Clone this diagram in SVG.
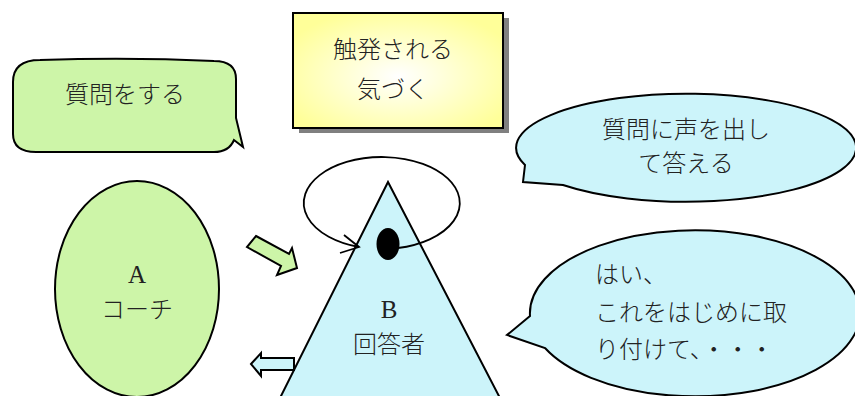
<svg xmlns="http://www.w3.org/2000/svg" width="855" height="396" viewBox="0 0 855 396">
<defs>
<radialGradient id="yg" cx="0.5" cy="0.55" r="0.6">
<stop offset="0" stop-color="#FFFFFF"/>
<stop offset="1" stop-color="#FFFF99"/>
</radialGradient>
<style>
.jp{font-family:"Noto Sans CJK JP","Noto Sans",sans-serif;font-size:24px;font-weight:300;fill:#222;}
.lat{font-family:"Liberation Serif",serif;font-size:25px;fill:#222;}
.c{text-anchor:middle;}
.green{fill:#CDF5A8;stroke:#000;stroke-width:2;}
.blue{fill:#CCF4FA;stroke:#000;stroke-width:2;}
.line{fill:none;stroke:#000;stroke-width:1.8;}
</style>
</defs>
<rect width="855" height="396" fill="#FFFFFF"/>

<g id="bubble-question">
<path class="green" d="M40,60 Q13,60 13,82 L13,134 Q13,152 36,152 L214,152 Q229,152 234,140 L243,147 L236,118 L236,79 Q236,61 214,61 Q130,57 40,60 Z"/>
<text class="jp c" x="125" y="103">質問をする</text>
</g>

<g id="box-trigger">
<rect x="299" y="18" width="210" height="115" fill="#808080"/>
<rect x="293" y="13" width="210" height="115" fill="url(#yg)" stroke="#000" stroke-width="2"/>
<text class="jp c" x="393" y="58">触発される</text>
<text class="jp c" x="393" y="98">気づく</text>
</g>

<g id="bubble-answer">
<path class="blue" d="M525,165 L523,182 L563,185 A170,54 0 1 0 525,165 Z"/>
<text class="jp c" x="686" y="138">質問に声を出し</text>
<text class="jp c" x="686" y="172">て答える</text>
</g>

<g id="bubble-yes">
<path class="blue" d="M530,316 L507,335 L545,348 A165,83 0 1 0 530,316 Z"/>
<text class="jp" x="595" y="283">はい、</text>
<text class="jp" x="595" y="321">これをはじめに取</text>
<text class="jp" x="595" y="358">り付けて、・・・</text>
</g>

<g id="node-a">
<ellipse class="green" cx="137" cy="289" rx="82" ry="108"/>
<text class="lat c" x="137" y="283">A</text>
<text class="jp c" x="137" y="318">コーチ</text>
</g>

<g id="node-b">
<polygon class="blue" points="388,182 279,400 501,400"/>
<text class="lat c" x="389" y="318">B</text>
<text class="jp c" x="389" y="353">回答者</text>
</g>

<g id="connectors">
<polygon class="green" stroke-width="1.5" points="256,236 289,254 292,248 297,268 277,275 281,266 247,247"/>
<polygon class="blue" stroke-width="1.5" points="251,364 261,353 261,358 294,358 294,370 261,370 261,376"/>
<path class="line" d="M398,248 A78,46 0 1 0 359,247"/>
<polyline class="line" points="344,235 359,247 340,253"/>
<ellipse cx="388" cy="244" rx="11.5" ry="16" fill="#000"/>
</g>
</svg>
